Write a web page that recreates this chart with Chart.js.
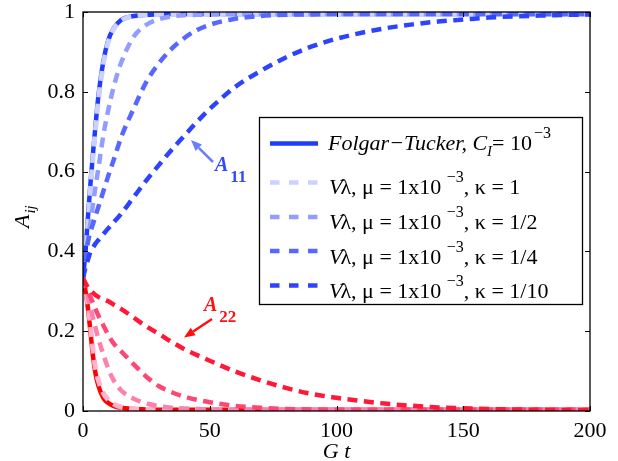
<!DOCTYPE html>
<html>
<head>
<meta charset="utf-8">
<script src="https://cdn.jsdelivr.net/npm/chart.js@4/dist/chart.umd.min.js"></script>
<style>
  html, body { margin: 0; padding: 0; background: #fff; }
  #wrap { width: 618px; height: 461px; }
</style>
</head>
<body>
<div id="wrap"><canvas id="chart" width="618" height="461"></canvas></div>
<script>
// 时间网格 G t
const tGrid = [0, 1, 2, 3, 4, 5, 6, 8, 10, 12, 15, 20, 25, 30, 35, 40, 45, 50, 60, 70, 80, 90, 100, 110, 120, 130, 140, 150, 160, 180, 200]

// A11 曲线
const a11FT = [0.333, 0.40, 0.49, 0.575, 0.65, 0.72, 0.785, 0.875, 0.93, 0.958, 0.98, 0.99, 0.993, 0.994, 0.995, 0.995, 0.995, 0.995, 0.995, 0.995, 0.995, 0.995, 0.995, 0.995, 0.995, 0.995, 0.995, 0.995, 0.995, 0.995, 0.995]
const a11K1 = [0.333, 0.39, 0.475, 0.56, 0.64, 0.71, 0.775, 0.868, 0.926, 0.956, 0.978, 0.99, 0.993, 0.994, 0.995, 0.995, 0.995, 0.995, 0.995, 0.995, 0.995, 0.995, 0.995, 0.995, 0.995, 0.995, 0.995, 0.995, 0.995, 0.995, 0.995]
const a11K2 = [0.333, 0.38, 0.43, 0.475, 0.52, 0.565, 0.605, 0.69, 0.755, 0.81, 0.872, 0.938, 0.968, 0.982, 0.989, 0.992, 0.993, 0.994, 0.995, 0.995, 0.995, 0.995, 0.995, 0.995, 0.995, 0.995, 0.995, 0.995, 0.995, 0.995, 0.995]
const a11K4 = [0.333, 0.385, 0.425, 0.45, 0.47, 0.49, 0.51, 0.55, 0.59, 0.627, 0.685, 0.758, 0.825, 0.872, 0.908, 0.935, 0.955, 0.968, 0.983, 0.99, 0.993, 0.994, 0.995, 0.995, 0.995, 0.995, 0.995, 0.995, 0.995, 0.995, 0.995]
const a11K10 = [0.333, 0.36, 0.38, 0.40, 0.41, 0.42, 0.428, 0.443, 0.458, 0.472, 0.494, 0.536, 0.578, 0.617, 0.655, 0.69, 0.725, 0.757, 0.812, 0.852, 0.886, 0.913, 0.933, 0.948, 0.96, 0.969, 0.976, 0.981, 0.986, 0.991, 0.994]

// A22 曲线
const a22FT = [0.333, 0.30, 0.255, 0.195, 0.135, 0.092, 0.065, 0.033, 0.02, 0.013, 0.008, 0.005, 0.004, 0.003, 0.003, 0.003, 0.003, 0.003, 0.003, 0.003, 0.003, 0.003, 0.003, 0.003, 0.003, 0.003, 0.003, 0.003, 0.003, 0.003, 0.003]
const a22K1 = [0.333, 0.305, 0.265, 0.21, 0.15, 0.105, 0.078, 0.045, 0.028, 0.018, 0.01, 0.005, 0.004, 0.003, 0.003, 0.003, 0.003, 0.003, 0.003, 0.003, 0.003, 0.003, 0.003, 0.003, 0.003, 0.003, 0.003, 0.003, 0.003, 0.003, 0.003]
const a22K2 = [0.333, 0.31, 0.285, 0.258, 0.232, 0.207, 0.183, 0.142, 0.106, 0.078, 0.052, 0.031, 0.019, 0.012, 0.008, 0.006, 0.005, 0.004, 0.003, 0.003, 0.003, 0.003, 0.003, 0.003, 0.003, 0.003, 0.003, 0.003, 0.003, 0.003, 0.003]
const a22K4 = [0.333, 0.315, 0.30, 0.285, 0.27, 0.255, 0.24, 0.215, 0.19, 0.17, 0.15, 0.117, 0.086, 0.062, 0.047, 0.036, 0.028, 0.022, 0.013, 0.008, 0.005, 0.004, 0.003, 0.003, 0.003, 0.003, 0.003, 0.003, 0.003, 0.003, 0.003]
const a22K10 = [0.333, 0.32, 0.31, 0.302, 0.296, 0.29, 0.286, 0.28, 0.275, 0.267, 0.256, 0.234, 0.212, 0.193, 0.173, 0.155, 0.14, 0.126, 0.099, 0.077, 0.058, 0.043, 0.033, 0.025, 0.018, 0.013, 0.009, 0.007, 0.005, 0.003, 0.002]

// 坐标刻度
const xTicks = [0, 50, 100, 150, 200]
const yTicks = [0, 0.2, 0.4, 0.6, 0.8, 1]

// 图例文字
const kappaLabels = ['1', '1/2', '1/4', '1/10']

const SERIF = "'Liberation Serif'"
const blues = { ft: '#1f3cff', k1: '#cdd1ff', k2: '#939cff', k4: '#5868ff', k10: '#2d44ff' }
const reds = { ft: '#ff0000', k1: '#ffb3cf', k2: '#ff7fab', k4: '#ff4775', k10: '#ff1838' }
const DASH = [10, 6.5]

const toPoints = vals => tGrid.map((t, i) => ({ x: t, y: vals[i] }))

const makeSet = (vals, color, dashed, order, width) => ({
  data: toPoints(vals),
  borderColor: color,
  borderWidth: width || 4.5,
  borderDash: dashed ? DASH : [],
  borderCapStyle: 'butt',
  pointRadius: 0,
  fill: false,
  cubicInterpolationMode: 'monotone',
  order
})

const datasets = [
  makeSet(a11FT, blues.ft, false, 10),
  makeSet(a11K1, blues.k1, true, 9, 5),
  makeSet(a11K2, blues.k2, true, 8),
  makeSet(a11K4, blues.k4, true, 7),
  makeSet(a11K10, blues.k10, true, 6),
  makeSet(a22FT, reds.ft, false, 5),
  makeSet(a22K1, reds.k1, true, 4, 5),
  makeSet(a22K2, reds.k2, true, 3),
  makeSet(a22K4, reds.k4, true, 2),
  makeSet(a22K10, reds.k10, true, 1)
]

// 富文本绘制：依次画出每段文字
function drawRuns(ctx, x, y, runs) {
  runs.forEach(r => {
    ctx.font = r.font
    ctx.fillText(r.text, x, y + (r.dy || 0))
    x += ctx.measureText(r.text).width + (r.gap || 0)
  })
  return x
}

function arrow(ctx, x0, y0, x1, y1, color) {
  const ang = Math.atan2(y1 - y0, x1 - x0)
  const len = 11, half = 4.5
  const bx = x1 - Math.cos(ang) * len, by = y1 - Math.sin(ang) * len
  ctx.strokeStyle = color
  ctx.fillStyle = color
  ctx.lineWidth = 2.5
  ctx.beginPath()
  ctx.moveTo(x0, y0)
  ctx.lineTo(bx, by)
  ctx.stroke()
  ctx.beginPath()
  ctx.moveTo(x1, y1)
  ctx.lineTo(bx - Math.sin(ang) * half, by + Math.cos(ang) * half)
  ctx.lineTo(bx + Math.sin(ang) * half, by - Math.cos(ang) * half)
  ctx.closePath()
  ctx.fill()
}

const framePlugin = {
  id: 'frame',
  afterDraw(chart) {
    const { ctx, chartArea: a, scales: { x, y } } = chart
    ctx.save()

    // 边框和向内的刻度
    ctx.strokeStyle = '#000'
    ctx.lineWidth = 1.3
    ctx.setLineDash([])
    ctx.strokeRect(a.left, a.top, a.right - a.left, a.bottom - a.top)
    ctx.lineWidth = 1
    ctx.beginPath()
    xTicks.forEach(v => {
      const px = Math.round(x.getPixelForValue(v)) + 0.5
      ctx.moveTo(px, a.bottom); ctx.lineTo(px, a.bottom - 5)
      ctx.moveTo(px, a.top); ctx.lineTo(px, a.top + 5)
    })
    yTicks.forEach(v => {
      const py = Math.round(y.getPixelForValue(v)) + 0.5
      ctx.moveTo(a.left, py); ctx.lineTo(a.left + 5, py)
      ctx.moveTo(a.right, py); ctx.lineTo(a.right - 5, py)
    })
    ctx.stroke()

    // 图例
    ctx.fillStyle = '#fff'
    ctx.fillRect(259, 117, 323, 187)
    ctx.lineWidth = 1.3
    ctx.strokeStyle = '#000'
    ctx.strokeRect(259.5, 117.5, 323, 187)

    const legendColors = [blues.k1, blues.k2, blues.k4, blues.k10]
    ctx.lineCap = 'butt'
    ctx.lineWidth = 4.5
    ctx.strokeStyle = blues.ft
    ctx.beginPath(); ctx.moveTo(270, 143.5); ctx.lineTo(318, 143.5); ctx.stroke()
    const rowSample = [182.5, 217, 251, 285.5]
    const rowBase = [193.5, 228.5, 263.5, 297.5]
    ctx.setLineDash([9.5, 9.5])
    legendColors.forEach((c, i) => {
      ctx.strokeStyle = c
      ctx.beginPath(); ctx.moveTo(270, rowSample[i]); ctx.lineTo(318, rowSample[i]); ctx.stroke()
    })
    ctx.setLineDash([])

    ctx.fillStyle = '#000'
    ctx.textBaseline = 'alphabetic'
    ctx.textAlign = 'left'
    drawRuns(ctx, 328, 150, [
      { text: 'Folgar\u2212Tucker, C', font: `italic 22px ${SERIF}` },
      { text: 'I', font: `italic 15px ${SERIF}`, dy: 6 },
      { text: '= 10', font: `22px ${SERIF}`, gap: 2 },
      { text: '\u22123', font: `16px ${SERIF}`, dy: -12 }
    ])
    kappaLabels.forEach((k, i) => {
      drawRuns(ctx, 329, rowBase[i], [
        { text: 'V', font: `italic 22px ${SERIF}`, gap: -2 },
        { text: '\u03bb, \u03bc = 1x10 ', font: `22px ${SERIF}` },
        { text: '\u22123', font: `16px ${SERIF}`, dy: -12 },
        { text: ', \u03ba = ' + k, font: `22px ${SERIF}` }
      ])
    })

    // 注释 A11 / A22
    arrow(ctx, 213, 162, 191, 140, '#6b7dff')
    ctx.fillStyle = '#3348ff'
    drawRuns(ctx, 215, 171, [
      { text: 'A', font: `italic bold 20px ${SERIF}`, gap: 2 },
      { text: '11', font: `bold 17px ${SERIF}`, dy: 11 }
    ])
    arrow(ctx, 212, 319, 184, 337.5, '#ff1010')
    ctx.fillStyle = '#ff1010'
    drawRuns(ctx, 204, 311, [
      { text: 'A', font: `italic bold 20px ${SERIF}`, gap: 2 },
      { text: '22', font: `bold 17px ${SERIF}`, dy: 11 }
    ])

    // 坐标轴标题
    ctx.fillStyle = '#000'
    ctx.font = `italic 22px ${SERIF}`
    ctx.textAlign = 'center'
    ctx.fillText('G t', (a.left + a.right) / 2, 458)
    ctx.save()
    ctx.translate(29, 228)
    ctx.rotate(-Math.PI / 2)
    ctx.textAlign = 'left'
    drawRuns(ctx, 0, 0, [
      { text: 'A', font: `italic 22px ${SERIF}`, gap: 1 },
      { text: 'ij', font: `italic 15px ${SERIF}`, dy: 6 }
    ])
    ctx.restore()

    ctx.restore()
  }
}

const tickFont = { family: SERIF, size: 22 }

new Chart(document.getElementById('chart').getContext('2d'), {
  type: 'line',
  data: { datasets },
  options: {
    responsive: false,
    animation: false,
    layout: { padding: { left: 0, right: 28, top: 12, bottom: 0 } },
    plugins: { legend: { display: false }, tooltip: { enabled: false } },
    scales: {
      x: {
        type: 'linear',
        min: 0,
        max: 200,
        afterBuildTicks: s => { s.ticks = xTicks.map(v => ({ value: v })) },
        afterFit: s => { s.height = 50; s.paddingLeft = 0; s.paddingRight = 0 },
        grid: { display: false, drawTicks: false },
        border: { display: false },
        ticks: { color: '#000', padding: 7, maxRotation: 0, font: tickFont, callback: v => String(v) }
      },
      y: {
        type: 'linear',
        min: 0,
        max: 1,
        afterBuildTicks: s => { s.ticks = yTicks.map(v => ({ value: v })) },
        afterFit: s => { s.width = 83; s.paddingTop = 0; s.paddingBottom = 0 },
        grid: { display: false, drawTicks: false },
        border: { display: false },
        ticks: { color: '#000', padding: 8, font: tickFont, callback: v => String(Math.round(v * 10) / 10) }
      }
    }
  },
  plugins: [framePlugin]
})
</script>
</body>
</html>
